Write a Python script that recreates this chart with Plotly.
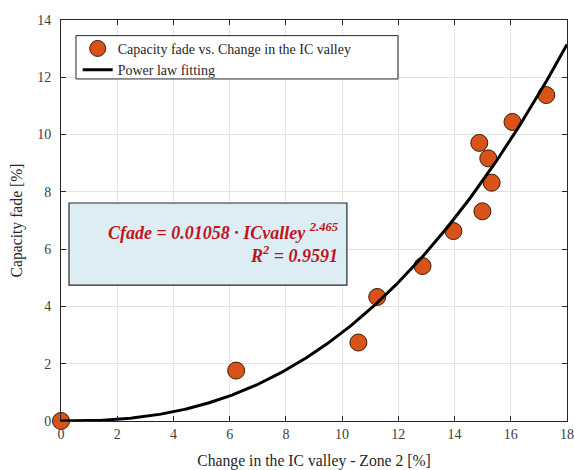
import numpy as np
import plotly.graph_objects as go

# Measured data: change in IC valley (Zone 2) vs capacity fade
ic_valley = [0.0, 6.23, 10.58, 11.25, 12.86, 13.96, 14.88, 14.99, 15.2, 15.32, 16.06, 17.26]
cap_fade = [0.0, 1.76, 2.74, 4.33, 5.41, 6.63, 9.71, 7.32, 9.17, 8.32, 10.44, 11.38]

# Power law fit coefficients: Cfade = a * ICvalley^b
fit_a = 0.01058
fit_b = 2.465
fit_r2 = 0.9591

x_ticks = [0, 2, 4, 6, 8, 10, 12, 14, 16, 18]
y_ticks = [0, 2, 4, 6, 8, 10, 12, 14]

x_fit = np.linspace(0, 18, 300)
y_fit = fit_a * x_fit ** fit_b

serif = "Liberation Serif"

fig = go.Figure()
fig.add_trace(go.Scatter(
    x=ic_valley, y=cap_fade, mode="markers", cliponaxis=False,
    name="Capacity fade vs. Change in the IC valley",
    marker=dict(size=17, color="#D95319", line=dict(color="#3a1a0a", width=1)),
))
fig.add_trace(go.Scatter(
    x=x_fit, y=y_fit, mode="lines", name="Power law fitting", cliponaxis=False,
    line=dict(color="black", width=3),
))

axis_common = dict(
    showline=True, linecolor="#262626", linewidth=1, mirror="ticks",
    ticks="inside", ticklen=5, tickcolor="#262626",
    showgrid=True, gridcolor="#e3e3e3", gridwidth=1,
    zeroline=False, automargin=False,
    tickfont=dict(family=serif, size=14, color="#404040"),
)

fig.update_layout(
    width=574, height=470,
    margin=dict(l=61, r=7, t=20, b=49),
    paper_bgcolor="white", plot_bgcolor="white",
    font=dict(family=serif, color="#262626"),
    xaxis=dict(range=[0, 18], tickvals=x_ticks, **axis_common,
               title=dict(text="Change in the IC valley - Zone 2 [%]",
                          font=dict(family=serif, size=15.7, color="#262626"), standoff=18)),
    yaxis=dict(range=[0, 14], tickvals=y_ticks, ticklabelstandoff=6, **axis_common,
               title=dict(text="Capacity fade [%]",
                          font=dict(family=serif, size=15.7, color="#262626"), standoff=10)),
    legend=dict(
        x=0.033, y=0.968, xanchor="left", yanchor="top",
        bgcolor="rgba(0,0,0,0)", borderwidth=0,
        font=dict(family=serif, size=14, color="#262626"),
        itemwidth=30, tracegroupgap=0,
    ),
    showlegend=True,
)

# Legend frame (wider than the entries)
fig.add_shape(
    type="rect", xref="paper", yref="paper",
    x0=0.0296, x1=0.666, y0=0.853, y1=0.961,
    fillcolor="white", line=dict(color="#262626", width=1), layer="above",
)

# Fit equation box
fig.add_shape(
    type="rect", xref="paper", yref="paper",
    x0=0.0158, x1=0.565, y0=0.339, y1=0.5436,
    fillcolor="#DCEEF3", line=dict(color="#262626", width=1.2), layer="above",
)
fig.add_annotation(
    xref="paper", yref="paper", x=0.552, y=0.445, xanchor="right", yanchor="middle",
    align="right", showarrow=False,
    text=(f"<b><i>Cfade = {fit_a:.5f} · ICvalley <sup>{fit_b}</sup></i></b><br>"
          f"<b><i>R<sup>2</sup> = {fit_r2}</i></b>"),
    font=dict(family=serif, size=18, color="#C0141C"),
)

fig.write_html("out.html")
